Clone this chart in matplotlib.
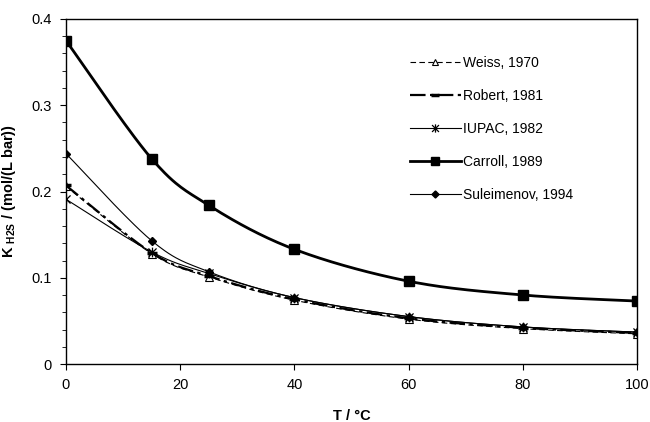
import numpy as np
import matplotlib
matplotlib.use("Agg")
import matplotlib.pyplot as plt
from matplotlib.path import Path

plt.rcParams["font.family"] = ["Liberation Sans", "DejaVu Sans"]
plt.rcParams["mathtext.fontset"] = "custom"
plt.rcParams["mathtext.rm"] = "Liberation Sans"
plt.rcParams["mathtext.bf"] = "Liberation Sans:bold"

# Température (°C) et constantes de Henry
T = [0, 15, 25, 40, 60, 80, 100]
weiss = [0.206, 0.128, 0.101, 0.074, 0.052, 0.041, 0.035]
robert = [0.207, 0.129, 0.102, 0.075, 0.053, 0.042, 0.036]
iupac = [0.191, 0.130, 0.105, 0.077, 0.055, 0.043, 0.037]
carroll = [0.375, 0.238, 0.184, 0.133, 0.096, 0.080, 0.073]
suleimenov = [0.244, 0.143, 0.107, 0.077, 0.055, 0.043, 0.037]

labels = ["Weiss, 1970", "Robert, 1981", "IUPAC, 1982", "Carroll, 1989", "Suleimenov, 1994"]
x_ticks = [0, 20, 40, 60, 80, 100]
y_ticks = [0, 0.1, 0.2, 0.3, 0.4]


def lisse(x, y, n=30):
    # courbe lissée type Excel (Bezier / Catmull-Rom)
    x = np.asarray(x, float)
    y = np.asarray(y, float)
    px, py = [], []
    for i in range(len(x) - 1):
        x0, y0 = (x[i - 1], y[i - 1]) if i > 0 else (x[i], y[i])
        x3, y3 = (x[i + 2], y[i + 2]) if i + 2 < len(x) else (x[i + 1], y[i + 1])
        x1, y1 = x[i], y[i]
        x2, y2 = x[i + 1], y[i + 1]
        c1x, c1y = x1 + (x2 - x0) / 6, y1 + (y2 - y0) / 6
        c2x, c2y = x2 - (x3 - x1) / 6, y2 - (y3 - y1) / 6
        t = np.linspace(0, 1, n)
        px.extend((1 - t) ** 3 * x1 + 3 * (1 - t) ** 2 * t * c1x + 3 * (1 - t) * t ** 2 * c2x + t ** 3 * x2)
        py.extend((1 - t) ** 3 * y1 + 3 * (1 - t) ** 2 * t * c1y + 3 * (1 - t) * t ** 2 * c2y + t ** 3 * y2)
    return px, py


etoile = Path([(-1, -1), (1, 1), (-1, 1), (1, -1), (0, -1.2), (0, 1.2)],
              [Path.MOVETO, Path.LINETO, Path.MOVETO, Path.LINETO, Path.MOVETO, Path.LINETO])

series = [
    (weiss, dict(color="black", lw=0.8, ls=(0, (5, 3))),
     dict(marker="^", ms=5.5, mfc="white", mec="black", mew=0.8)),
    (robert, dict(color="black", lw=1.6, ls=(0, (7, 2, 1.5, 2))),
     dict(marker="_", ms=7, mec="black", mew=2.5)),
    (iupac, dict(color="black", lw=0.8, ls="-"),
     dict(marker=etoile, ms=7, mec="black", mew=0.9)),
    (carroll, dict(color="black", lw=2.0, ls="-"),
     dict(marker="s", ms=7.5, mfc="black", mec="black")),
    (suleimenov, dict(color="black", lw=0.8, ls="-"),
     dict(marker="D", ms=4.2, mfc="black", mec="black")),
]

fig = plt.figure(figsize=(6.5, 4.22), dpi=100)
ax = fig.add_axes([0.1015, 0.1374, 0.8785, 0.8176])

for (vals, sty_l, sty_m), lbl in zip(series, labels):
    sx, sy = lisse(T, vals)
    ax.plot(sx, sy, **sty_l)
    ax.plot(T, vals, ls="none", **sty_m)
    # entrée de légende combinée
    ax.plot([], [], label=lbl, **sty_l, **sty_m)

ax.set_xlim(0, 100)
ax.set_ylim(0, 0.4)
ax.set_xticks(x_ticks)
ax.set_yticks(y_ticks)
ax.set_yticklabels(["0", "0.1", "0.2", "0.3", "0.4"])
ax.set_yticks(np.arange(0, 0.401, 0.02), minor=True)
ax.tick_params(axis="both", which="major", direction="out", length=4, width=0.8,
               labelsize=10.5, pad=6)
ax.tick_params(axis="y", which="minor", direction="out", length=3, width=0.6)
ax.tick_params(axis="x", which="minor", bottom=False)
for sp in ax.spines.values():
    sp.set_linewidth(1.0)

ax.set_xlabel("T / °C", fontsize=10.5, fontweight="bold", labelpad=12)
ax.set_ylabel(r"K $_{\mathbf{H2S}}$ / (mol/(L bar))", fontsize=10.5, fontweight="bold", labelpad=10)

ax.legend(loc="upper left", bbox_to_anchor=(0.58, 0.93), frameon=False,
          fontsize=10, handlelength=3.7, labelspacing=1.38, handletextpad=0.15,
          markerscale=0.85)

plt.savefig("out.png", dpi=100)
plt.close()
